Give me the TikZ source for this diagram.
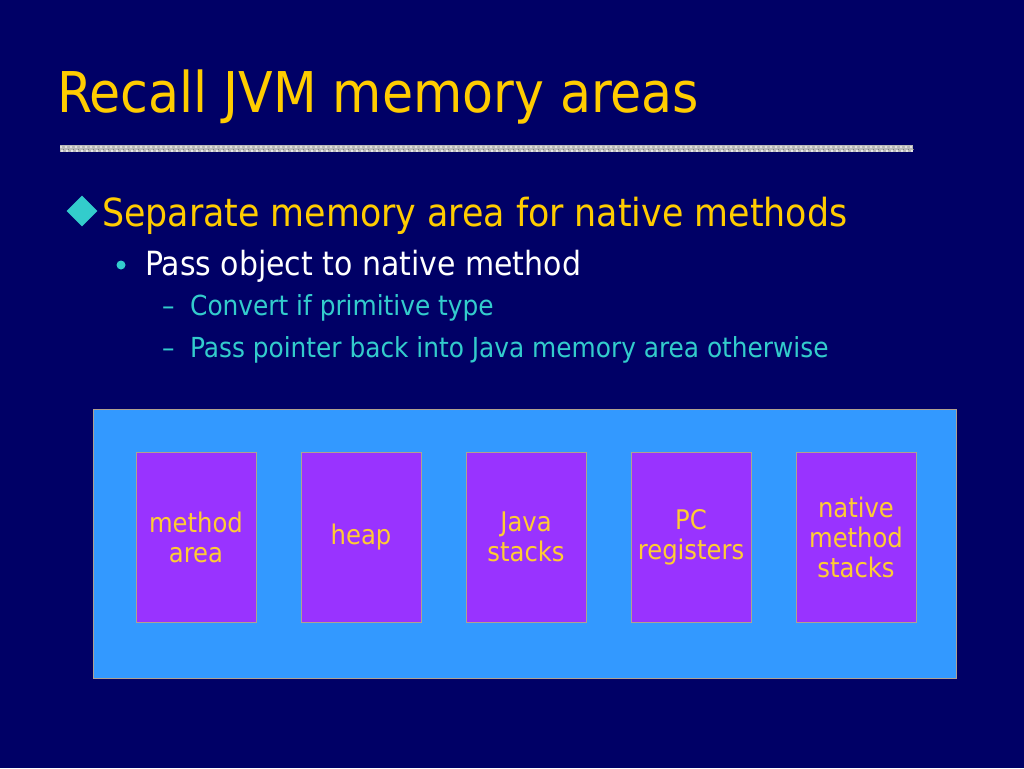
\documentclass[tikz,border=0pt]{standalone}
\usepackage{fontspec}
\setmainfont{DejaVu Sans Condensed}
\usetikzlibrary{shapes.geometric}
\definecolor{navy}{HTML}{000066}
\definecolor{ttl}{HTML}{FFCC00}
\definecolor{cyanb}{HTML}{33CCCC}
\definecolor{outerblue}{HTML}{3399FF}
\definecolor{purp}{HTML}{9933FF}
\definecolor{boxtxt}{HTML}{FFCC33}
\definecolor{edgegray}{HTML}{B0A090}
\begin{document}
\begin{tikzpicture}[x=1pt,y=-1pt,
  area/.style={draw=edgegray,line width=1pt,fill=purp,minimum width=120pt,minimum height=170pt,
    inner sep=0pt,text=boxtxt,align=center,font=\fontsize{27}{30}\selectfont},
  txt/.style={anchor=base west,inner sep=0pt},
  sub/.style={txt,text=cyanb,font=\fontsize{27.6}{30}\selectfont}]
\fill[navy] (0,0) rectangle (1024,768);
\useasboundingbox (0,0) rectangle (1024,768);
% title
\node[txt,text=ttl,font=\fontsize{56.2}{60}\selectfont] (title) at (57,112) {Recall JVM memory areas};
% separator bar
\fill[white!72!black] (60,145) rectangle (913,152);
\foreach \i in {0,...,170}{
  \pgfmathsetmacro{\xx}{60+5*\i}
  \fill[white!88!black] (\xx,145.5) rectangle ++(2,2);
  \fill[white!50!black] (\xx+2.5,148.5) rectangle ++(1.5,1.5);
  \fill[white!90!black] (\xx+1,150) rectangle ++(1.5,1.5);
}
% bullets
\node[diamond,fill=cyanb,inner sep=0pt,minimum size=31pt] (d1) at (82,211) {};
\node[txt,text=ttl,font=\fontsize{38.7}{44}\selectfont] (l1) at (102,226) {Separate memory area for native methods};
\node[circle,fill=cyanb,inner sep=0pt,minimum size=9pt] (b2) at (121,265) {};
\node[txt,text=white,font=\fontsize{33.3}{36}\selectfont] (l2) at (145,275) {Pass object to native method};
\node[sub] (dash3) at (162,315) {–};
\node[sub] (l3) at (190,315) {Convert if primitive type};
\node[sub] (dash4) at (162,357) {–};
\node[sub] (l4) at (190,357) {Pass pointer back into Java memory area otherwise};
% outer box
\node[draw=edgegray,line width=1pt,fill=outerblue,minimum width=863pt,minimum height=269pt,inner sep=0pt] (outer) at (524.5,543.5) {};
% memory areas
\node[area] (ma) at (196,537) {method\\area};
\node[area] (hp) at (361,537) {heap};
\node[area] (js) at (526,537) {Java\\stacks};
\node[area] (pc) at (691,537) {PC\\registers};
\node[area] (nm) at (856,537) {native\\method\\stacks};
\end{tikzpicture}
\end{document}
